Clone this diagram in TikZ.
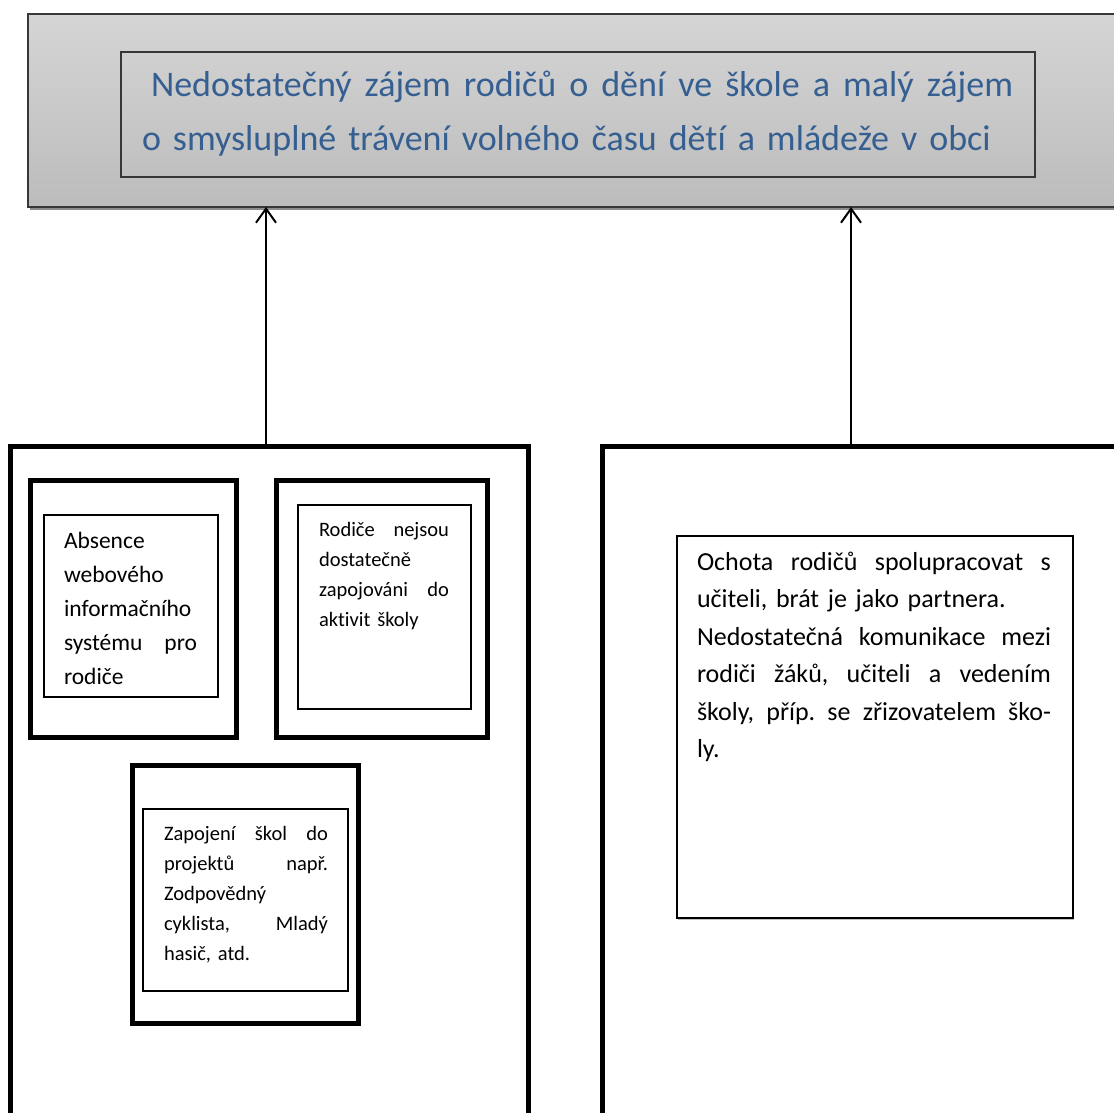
\documentclass[tikz,border=0pt]{standalone}
\usepackage{fontspec}
\setmainfont{Carlito}[Ligatures={NoCommon,NoRequired,NoContextual}]
\usetikzlibrary{arrows.meta,shadows}
\definecolor{titleblue}{RGB}{54,95,145}
\definecolor{boxedge}{RGB}{55,55,55}
\definecolor{grtop}{RGB}{213,213,213}
\definecolor{grbot}{RGB}{188,188,188}
\newcommand{\J}[2]{{\spaceskip=0pt\xspaceskip=0pt\makebox[#1][s]{#2}}}
\frenchspacing
\begin{document}
\begin{tikzpicture}[x=1pt,y=-1pt,
  frame/.style={draw=boxedge, line width=1.5pt, top color=grtop, bottom color=grbot,
    inner sep=0pt, outer sep=0pt, anchor=north west,
    drop shadow={shadow xshift=2pt, shadow yshift=-3pt, fill=black!45, opacity=1}},
  titlebox/.style={draw=boxedge, line width=1.2pt, inner sep=0pt, outer sep=0pt, anchor=north west},
  bigbox/.style={draw=black, line width=5pt, inner sep=0pt, outer sep=0pt, anchor=north west},
  midbox/.style={draw=black, line width=5pt, inner sep=0pt, outer sep=0pt, anchor=north west},
  thinbox/.style={draw=black, line width=1.2pt, inner sep=0pt, outer sep=0pt, anchor=north west},
  txt/.style={anchor=base west, inner sep=0pt, outer sep=0pt},
  arr/.style={line width=2pt, -{Straight Barb[length=14pt,width=20pt,line width=2pt]}}
]
\useasboundingbox (0,0) rectangle (1114,1113);
\clip (0,0) rectangle (1114,1113);
\fill[white] (0,0) rectangle (1114,1113);

% top banner
\node[frame, minimum width=1200pt, minimum height=193pt] (top) at (28,14) {};
\node[titlebox, minimum width=914pt, minimum height=125pt] (titlebox) at (121,52) {};
\node[txt, text width=900pt, text=titleblue, font=\fontsize{36}{54}\selectfont] (title) at (142,97)
  {\hspace*{9pt}\J{862pt}{Nedostatečný zájem rodičů o dění ve škole a malý zájem}\\o smysluplné trávení volného času dětí a mládeže v obci};

% big boxes
\node[bigbox, minimum width=517.5pt, minimum height=800pt] (leftbig) at (10.5,446) {};
\node[bigbox, minimum width=600pt, minimum height=800pt] (rightbig) at (602,446) {};

% arrows
\coordinate (lx) at (266,0);
\coordinate (rx) at (851,0);
\draw[arr] (leftbig.north -| lx) -- (top.south -| lx);
\draw[arr] (rightbig.north -| rx) -- (top.south -| rx);

% box 1
\node[midbox, minimum width=206pt, minimum height=257.5pt] (b1) at (30.5,480) {};
\node[thinbox, minimum width=174pt, minimum height=182pt] (b1in) at (44,515) {};
\node[txt, text width=133pt, font=\fontsize{23.5}{34}\selectfont] (t1) at (64,548)
  {Absence\\webového\\informačního\\\J{133pt}{systému pro}\\rodiče};

% box 2
\node[midbox, minimum width=211pt, minimum height=257.5pt] (b2) at (276,480) {};
\node[thinbox, minimum width=173pt, minimum height=204pt] (b2in) at (298,505) {};
\node[txt, text width=130pt, font=\fontsize{20.5}{30}\selectfont] (t2) at (319,536)
  {\J{130pt}{Rodiče nejsou}\\dostatečně\\\J{130pt}{zapojováni do}\\aktivit školy};

% box 3
\node[midbox, minimum width=226pt, minimum height=258pt] (b3) at (132,765) {};
\node[thinbox, minimum width=205pt, minimum height=182pt] (b3in) at (143,809) {};
\node[txt, text width=164pt, font=\fontsize{20.5}{30}\selectfont] (t3) at (164,840)
  {\J{164pt}{Zapojení škol do}\\\J{164pt}{projektů např.}\\Zodpovědný\\\J{164pt}{cyklista, Mladý}\\hasič, atd.};

% right inner box
\node[thinbox, minimum width=396pt, minimum height=382pt,
  drop shadow={shadow xshift=1pt, shadow yshift=-1.5pt, fill=black!25, opacity=1}, fill=white] (rbox) at (677,536) {};
\node[txt, text width=354pt, font=\fontsize{26}{37.5}\selectfont] (t4) at (697,570)
  {\J{354pt}{Ochota rodičů spolupracovat s}\\učiteli, brát je jako partnera.\\\J{354pt}{Nedostatečná komunikace mezi}\\\J{354pt}{rodiči žáků, učiteli a vedením}\\\J{354pt}{školy, příp. se zřizovatelem ško-}\\ly.};
\end{tikzpicture}
\end{document}
